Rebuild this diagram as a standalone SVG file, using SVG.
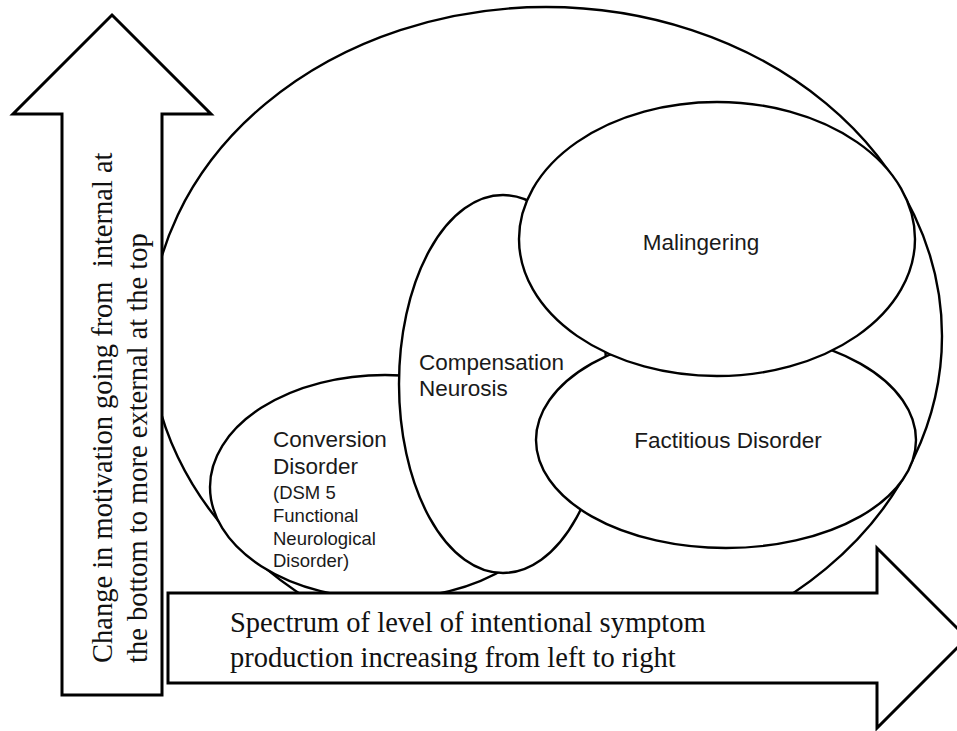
<svg xmlns="http://www.w3.org/2000/svg" width="957" height="731" viewBox="0 0 957 731">
  <style>
    .shape { fill: #ffffff; stroke: #000000; stroke-width: 2.4; }
    .arrow { fill: #ffffff; stroke: #000000; stroke-width: 3; stroke-linejoin: miter; }
    .sans { font-family: "Liberation Sans", Arial, sans-serif; fill: #1a1a1a; }
    .big { font-size: 22.5px; }
    .small { font-size: 18.5px; }
    .serif { font-family: "Liberation Serif", "Times New Roman", serif; font-size: 28.5px; fill: #111111; }
  </style>
  <rect x="0" y="0" width="957" height="731" fill="#ffffff"/>

  <g id="outer-circle">
    <ellipse class="shape" cx="546" cy="336" rx="396" ry="329"/>
  </g>

  <g id="conversion-disorder">
    <ellipse class="shape" cx="385" cy="487" rx="175" ry="112"/>
    <text class="sans big" x="273" y="447">Conversion</text>
    <text class="sans big" x="273" y="474">Disorder</text>
    <text class="sans small" x="273" y="499">(DSM 5</text>
    <text class="sans small" x="273" y="522">Functional</text>
    <text class="sans small" x="273" y="545">Neurological</text>
    <text class="sans small" x="273" y="567">Disorder)</text>
  </g>

  <g id="compensation-neurosis">
    <ellipse class="shape" cx="503" cy="384" rx="104" ry="189"/>
    <text class="sans big" x="419" y="370">Compensation</text>
    <text class="sans big" x="419" y="396">Neurosis</text>
  </g>

  <g id="factitious-disorder">
    <ellipse class="shape" cx="726" cy="440" rx="190" ry="108"/>
    <text class="sans big" x="728" y="448" text-anchor="middle">Factitious Disorder</text>
  </g>

  <g id="malingering">
    <ellipse class="shape" cx="717" cy="239" rx="198" ry="137"/>
    <text class="sans big" x="701" y="250" text-anchor="middle">Malingering</text>
  </g>

  <g id="motivation-arrow">
    <polygon class="arrow" points="112,15 211,114 162,114 162,695 62,695 62,114 13,114"/>
    <text class="serif" transform="translate(112,663) rotate(-90)" xml:space="preserve">Change in motivation going from  internal at</text>
    <text class="serif" transform="translate(147,663) rotate(-90)">the bottom to more external at the top</text>
  </g>

  <g id="intentionality-arrow">
    <polygon class="arrow" points="168,593 877,593 877,548 967,638 877,728 877,683 168,683"/>
    <text class="serif" x="230" y="632">Spectrum of level of intentional symptom</text>
    <text class="serif" x="230" y="667">production increasing from left to right</text>
  </g>
</svg>
